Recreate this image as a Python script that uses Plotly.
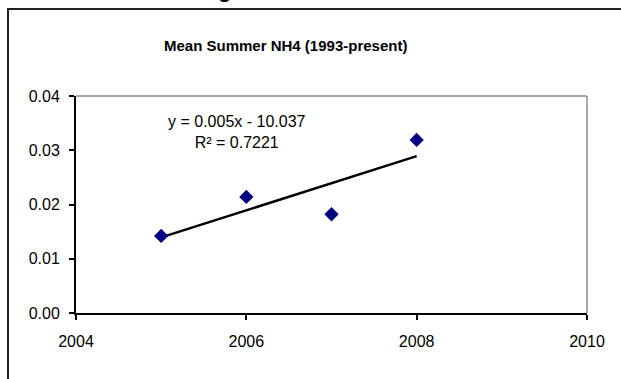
import numpy as np
import plotly.graph_objects as go

# mean summer NH4 by year
years = [2005, 2006, 2007, 2008]
nh4 = [0.0142, 0.0214, 0.0182, 0.0319]

x_ticks = [2004, 2006, 2008, 2010]
y_ticks = [0.00, 0.01, 0.02, 0.03, 0.04]

# linear trendline (as Excel does it)
slope, intercept = np.polyfit(years, nh4, 1)
trend_x = [years[0], years[-1]]
trend_y = [slope * v + intercept for v in trend_x]

W, H = 621, 379
L, R, T, B = 76, 34, 96, 66
pw, ph = W - L - R, H - T - B

def px(xp):
    return (xp - L) / pw

def py(yp):
    return (H - B - yp) / ph

fig = go.Figure()

fig.add_trace(go.Scatter(x=trend_x, y=trend_y, mode='lines',
                         line=dict(color='black', width=2.5), hoverinfo='skip'))
fig.add_trace(go.Scatter(x=years, y=nh4, mode='markers',
                         marker=dict(symbol='diamond', size=11, color='#000080')))

# outer chart frame (runs off the right and bottom edges)
fig.add_shape(type='rect', xref='paper', yref='paper',
              x0=px(8), x1=px(640), y0=py(9), y1=py(400),
              line=dict(color='#222222', width=2), layer='below')

# plot area border, top and right in grey
fig.add_shape(type='line', xref='paper', yref='paper', x0=0, x1=1, y0=1, y1=1,
              line=dict(color='#8c8c8c', width=1.5))
fig.add_shape(type='line', xref='paper', yref='paper', x0=1, x1=1, y0=0, y1=1,
              line=dict(color='#8c8c8c', width=1.5))

fig.add_annotation(xref='paper', yref='paper', x=px(285), y=py(45),
                   xanchor='center', yanchor='middle',
                   text='<b>Mean Summer NH4 (1993-present)</b>', showarrow=False,
                   font=dict(size=15, color='black'))

fig.add_annotation(xref='paper', yref='paper', x=px(237), y=py(132),
                   xanchor='center', yanchor='middle',
                   text='y = 0.005x - 10.037<br>R² = 0.7221', showarrow=False,
                   font=dict(size=16, color='black'), align='center')

# heading of the page above the chart, cut off at the top
fig.add_annotation(xref='paper', yref='paper', x=px(35), y=py(-10),
                   xanchor='left', yanchor='middle',
                   text='<b>Station 1 - Saratoga Lake</b>', showarrow=False,
                   font=dict(size=22, color='black'))

fig.update_layout(
    width=W, height=H,
    margin=dict(l=L, r=R, t=T, b=B),
    paper_bgcolor='white', plot_bgcolor='white',
    showlegend=False,
    font=dict(family='Liberation Sans, Arial, sans-serif', size=16, color='black'),
    xaxis=dict(range=[2004, 2010], tickvals=x_ticks, ticktext=[str(v) for v in x_ticks],
               showgrid=False, zeroline=False, showline=True, linecolor='black', linewidth=2,
               ticks='outside', ticklen=5, tickwidth=1.5, tickcolor='black',
               ticklabelstandoff=8),
    yaxis=dict(range=[0, 0.04], tickvals=y_ticks, ticktext=['%.2f' % v for v in y_ticks],
               showgrid=False, zeroline=False, showline=True, linecolor='black', linewidth=2,
               ticks='outside', ticklen=5, tickwidth=1.5, tickcolor='black',
               ticklabelstandoff=6),
)

fig.write_html("out.html", config={'displayModeBar': False},
               post_script="document.body.style.margin='0';document.body.style.overflow='hidden';")
